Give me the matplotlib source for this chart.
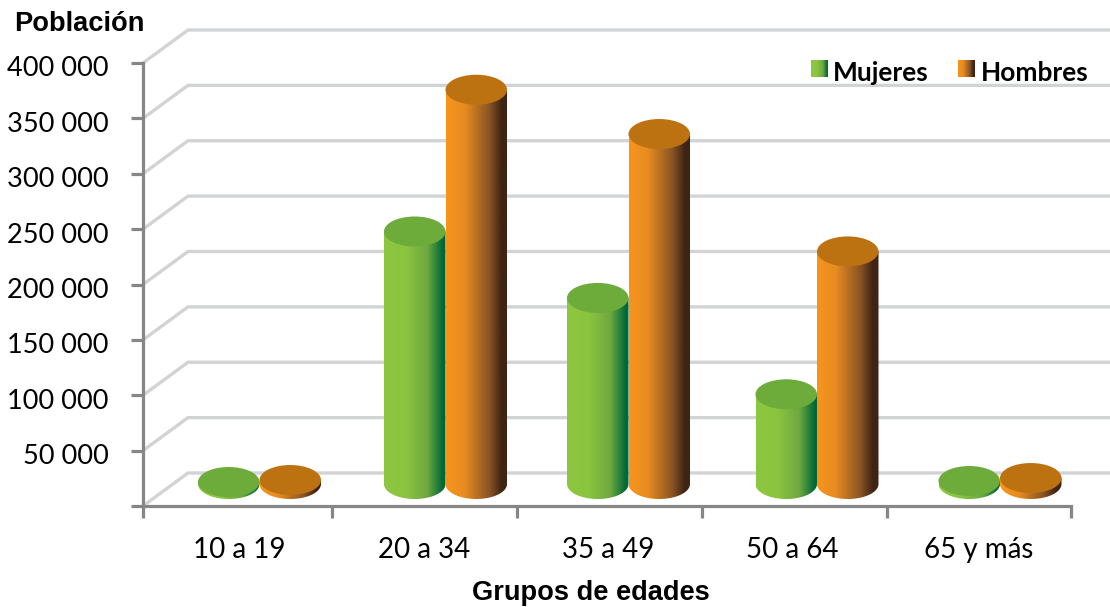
import numpy as np
import matplotlib
matplotlib.use("Agg")
import matplotlib.pyplot as plt
from matplotlib.colors import LinearSegmentedColormap
from matplotlib.patches import Ellipse, PathPatch
from matplotlib.path import Path
from matplotlib.transforms import ScaledTranslation

categories = ["10 a 19", "20 a 34", "35 a 49", "50 a 64", "65 y más"]
mujeres = [1800, 228000, 168000, 81000, 2700]
hombres = [3600, 356000, 316000, 210000, 5400]
yticks = [0, 50000, 100000, 150000, 200000, 250000, 300000, 350000, 400000]
ylabels = ["", "50 000", "100 000", "150 000", "200 000", "250 000", "300 000", "350 000", "400 000"]
ylabel_text = "Población"
xlabel_text = "Grupos de edades"

W, H = 1110, 607
fig = plt.figure(figsize=(W / 100, H / 100), dpi=100, facecolor="white")
L, R, B, T = 143, 1071, 506, 63
ax = fig.add_axes([L / W, 1 - B / H, (R - L) / W, (B - T) / H])
ax.set_facecolor("none")
ax.set_xlim(0, 5)
ax.set_ylim(0, 400000)

px_x = 5 / (R - L)
px_y = 400000 / (B - T)
DX, DY = 45 * px_x, 33 * px_y
GRID = "#D2D3D5"
AXC = "#868686"

# layout of the category band (pixels from the left spine)
band_edges = np.array([0, 189, 374, 559, 744, 928]) * px_x
bar_centres = np.array([116.5, 302.5, 485.5, 674, 857]) * px_x
label_centres = np.array([96.5, 281.5, 465, 649.5, 836]) * px_x

# back wall gridlines
for v in yticks:
    ax.plot([0, DX, 5.3], [v, v + DY, v + DY], color=GRID, lw=2.4, clip_on=False,
            zorder=1, solid_joinstyle="miter", solid_capstyle="butt")

green = LinearSegmentedColormap.from_list("g", [(0, "#8DC63F"), (0.35, "#8BC540"), (0.7, "#6FA83F"), (0.95, "#006838"), (1, "#006838")])
orange = LinearSegmentedColormap.from_list("o", [(0, "#F7941D"), (0.3, "#E88C20"), (0.7, "#8A5426"), (0.9, "#3F2414"), (1, "#3F2414")])
grad = np.linspace(0, 1, 256).reshape(1, -1)

BW = 61.5 * px_x          # bar width
ER = 15 * px_y            # ellipse half height
BASE = 22 * px_y          # floor position of the bars


def cylinder(xc, value, cmap, top, z):
    x0, x1 = xc - BW / 2, xc + BW / 2
    y0, y1 = BASE, BASE + value
    t = np.linspace(np.pi, 2 * np.pi, 60)
    vx = np.r_[xc + BW / 2 * np.cos(t), x1, x0, x0]
    vy = np.r_[y0 + ER * np.sin(t), y1, y1, y0]
    im = ax.imshow(grad, cmap=cmap, aspect="auto", extent=[x0, x1, y0 - ER, y1 + 1], zorder=z,
                   interpolation="bilinear", clip_on=True)
    patch = PathPatch(Path(np.c_[vx, vy]), transform=ax.transData, fc="none", ec="none")
    ax.add_patch(patch)
    im.set_clip_path(patch)
    ax.add_patch(Ellipse((xc, y1), BW, 2 * ER, fc=top, ec="none", zorder=z + 0.1))


for i in range(len(categories)):
    xc = bar_centres[i]
    cylinder(xc - BW / 2, mujeres[i], green, "#6DAB3B", 3)
    cylinder(xc + BW / 2, hombres[i], orange, "#BD7212", 4)

ax.set_xlim(0, 5)
ax.set_ylim(0, 400000)

for s in ("top", "right"):
    ax.spines[s].set_visible(False)
for s in ("left", "bottom"):
    ax.spines[s].set_color(AXC)
    ax.spines[s].set_linewidth(2.3)
    ax.spines[s].set_zorder(6)

ax.set_yticks(yticks)
ax.set_yticklabels(ylabels, fontfamily="Lato", fontsize=19.5, color="black")
ax.set_xticks(band_edges)
ax.set_xticklabels([])
ax.set_xticks(label_centres, minor=True)
ax.set_xticklabels(categories, minor=True, fontfamily="Lato", fontsize=20, color="black")
ax.tick_params(axis="y", length=8.5, width=2.3, color=AXC, pad=16.5)
ax.tick_params(axis="x", which="major", length=8.5, width=2.3, color=AXC)
ax.tick_params(axis="x", which="minor", length=0, pad=22.5)

shift = ScaledTranslation(0, -3.5 / 100, fig.dpi_scale_trans)
for lab in ax.get_yticklabels():
    lab.set_transform(lab.get_transform() + shift)

fig.text(14 / W, 1 - 24 / H, ylabel_text, fontfamily="Liberation Sans", fontweight="bold",
         fontsize=19.6, va="center", ha="left", color="black")
fig.text(591 / W, 1 - 593 / H, xlabel_text, fontfamily="Liberation Sans", fontweight="bold",
         fontsize=19.6, va="center", ha="center", color="black")

# legend
for x0, cmap in ((811, green), (958, orange)):
    a = fig.add_axes([x0 / W, 1 - 77 / H, 17 / W, 17 / H])
    a.imshow(grad, cmap=cmap, aspect="auto", interpolation="bilinear")
    a.axis("off")
fig.text(833 / W, 1 - 73 / H, "Mujeres", fontfamily="Lato", fontweight="bold", fontsize=18.9,
         va="center", ha="left", color="black")
fig.text(981 / W, 1 - 73 / H, "Hombres", fontfamily="Lato", fontweight="bold", fontsize=18.9,
         va="center", ha="left", color="black")

fig.savefig("out.png", dpi=100, facecolor="white")
